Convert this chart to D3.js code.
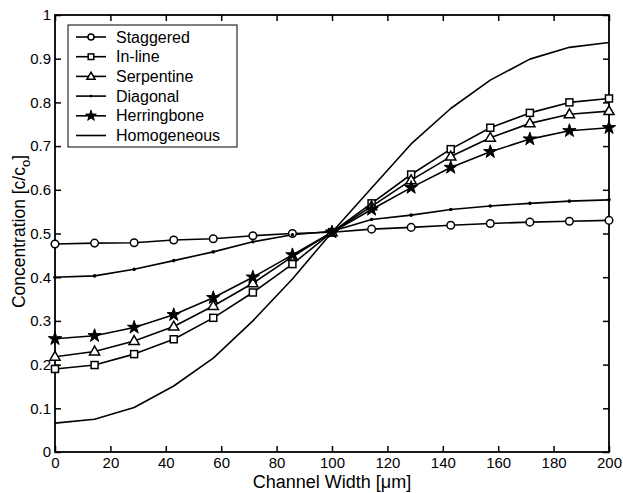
<!DOCTYPE html>
<html>
<head>
<meta charset="utf-8">
<script src="https://cdn.jsdelivr.net/npm/d3@7"></script>
<style>
  body { margin: 0; background: #fff; }
  text { font-family: "Liberation Sans", Arial, sans-serif; fill: #000; }
</style>
</head>
<body>
<script>
// channel positions (um)
var xVals = [0, 14.29, 28.57, 42.86, 57.14, 71.43, 85.71, 100, 114.29, 128.57, 142.86, 157.14, 171.43, 185.71, 200];

// concentration c/co per mixer
var staggered   = [0.476, 0.478, 0.479, 0.485, 0.488, 0.495, 0.500, 0.503, 0.510, 0.514, 0.519, 0.523, 0.526, 0.528, 0.530];
var inline      = [0.190, 0.199, 0.224, 0.258, 0.307, 0.365, 0.430, 0.503, 0.569, 0.635, 0.693, 0.742, 0.776, 0.800, 0.809];
var serpentine  = [0.218, 0.230, 0.254, 0.287, 0.334, 0.386, 0.447, 0.503, 0.562, 0.622, 0.676, 0.719, 0.752, 0.773, 0.780];
var diagonal    = [0.400, 0.403, 0.418, 0.438, 0.458, 0.481, 0.497, 0.505, 0.532, 0.542, 0.555, 0.563, 0.569, 0.574, 0.577];
var herringbone = [0.259, 0.266, 0.285, 0.314, 0.353, 0.400, 0.451, 0.503, 0.555, 0.605, 0.651, 0.687, 0.716, 0.735, 0.742];
var homogeneous = [0.066, 0.075, 0.102, 0.151, 0.215, 0.300, 0.396, 0.503, 0.604, 0.705, 0.786, 0.851, 0.899, 0.926, 0.937];

var seriesNames = ["Staggered", "In-line", "Serpentine", "Diagonal", "Herringbone", "Homogeneous"];
var seriesMarks = ["circle", "square", "triangle", "dot", "star", "none"];
var seriesData  = [staggered, inline, serpentine, diagonal, herringbone, homogeneous];

var xTicks = [0, 20, 40, 60, 80, 100, 120, 140, 160, 180, 200];
var yTicks = [0, 0.1, 0.2, 0.3, 0.4, 0.5, 0.6, 0.7, 0.8, 0.9, 1];

var width = 623, height = 493;
var pLeft = 55, pRight = 609, pTop = 15, pBottom = 452;

var svg = d3.select("body").append("svg").attr("width", width).attr("height", height);

var xScale = d3.scaleLinear().domain([0, 200]).range([pLeft, pRight]);
var yScale = d3.scaleLinear().domain([0, 1]).range([pBottom, pTop]);

// frame
svg.append("rect").attr("x", pLeft).attr("y", pTop)
  .attr("width", pRight - pLeft).attr("height", pBottom - pTop)
  .attr("fill", "none").attr("stroke", "#000").attr("stroke-width", 1.8);

// axes with inward ticks
var fmtY = function(d) { return d === 0 ? "0" : d === 1 ? "1" : d3.format(".1f")(d); };
var xAx = svg.append("g").attr("transform", "translate(0," + pBottom + ")")
  .call(d3.axisBottom(xScale).tickValues(xTicks).tickSizeInner(-6).tickSizeOuter(0).tickPadding(5));
var xAxTop = svg.append("g").attr("transform", "translate(0," + pTop + ")")
  .call(d3.axisTop(xScale).tickValues(xTicks).tickSizeInner(-6).tickSizeOuter(0).tickFormat(""));
var yAx = svg.append("g").attr("transform", "translate(" + pLeft + ",0)")
  .call(d3.axisLeft(yScale).tickValues(yTicks).tickSizeInner(-6).tickSizeOuter(0).tickPadding(4).tickFormat(fmtY));
var yAxR = svg.append("g").attr("transform", "translate(" + pRight + ",0)")
  .call(d3.axisRight(yScale).tickValues(yTicks).tickSizeInner(-6).tickSizeOuter(0).tickFormat(""));

[xAx, xAxTop, yAx, yAxR].forEach(function(g) {
  g.select(".domain").remove();
  g.selectAll(".tick line").attr("stroke", "#000").attr("stroke-width", 1.5);
  g.selectAll("text").style("font-size", "15px").attr("fill", "#000");
});

// axis titles
svg.append("text").attr("x", (pLeft + pRight) / 2).attr("y", 488)
  .attr("text-anchor", "middle").style("font-size", "18px").text("Channel Width [\u03bcm]");

var yt = svg.append("text").attr("transform", "translate(25," + ((pTop + pBottom) / 2 - 2) + ") rotate(-90)")
  .attr("text-anchor", "middle").style("font-size", "17.5px");
yt.append("tspan").text("Concentration [c/c");
yt.append("tspan").attr("dy", 5).style("font-size", "13px").text("o");
yt.append("tspan").attr("dy", -5).text("]");

// marker drawing
function drawMarker(g, type, x, y, k) {
  k = k || 1;
  if (type === "circle") {
    g.append("circle").attr("cx", x).attr("cy", y).attr("r", 3.8 * k)
      .attr("fill", "#fff").attr("stroke", "#000").attr("stroke-width", 1.5);
  } else if (type === "square") {
    var s = 7 * k;
    g.append("rect").attr("x", x - s / 2).attr("y", y - s / 2).attr("width", s).attr("height", s)
      .attr("fill", "#fff").attr("stroke", "#000").attr("stroke-width", 1.5);
  } else if (type === "triangle") {
    g.append("path").attr("d", d3.symbol().type(d3.symbolTriangle).size(45 * k * k)())
      .attr("transform", "translate(" + x + "," + (y + 0.5) + ")")
      .attr("fill", "#fff").attr("stroke", "#000").attr("stroke-width", 1.5);
  } else if (type === "star") {
    g.append("path").attr("d", d3.symbol().type(d3.symbolStar).size(55 * k * k)())
      .attr("transform", "translate(" + x + "," + y + ")")
      .attr("fill", "#000").attr("stroke", "#000").attr("stroke-width", 1);
  } else if (type === "dot") {
    g.append("circle").attr("cx", x).attr("cy", y).attr("r", 1.8 * k).attr("fill", "#000");
  }
}

var line = d3.line().x(function(d) { return xScale(d[0]); }).y(function(d) { return yScale(d[1]); });

var plot = svg.append("g");
seriesData.forEach(function(vals, i) {
  var pts = xVals.map(function(x, j) { return [x, vals[j]]; });
  plot.append("path").attr("d", line(pts)).attr("fill", "none")
    .attr("stroke", "#000").attr("stroke-width", 1.6).attr("stroke-linejoin", "round");
});
seriesData.forEach(function(vals, i) {
  var g = plot.append("g");
  xVals.forEach(function(x, j) { drawMarker(g, seriesMarks[i], xScale(x), yScale(vals[j])); });
});

// legend
var lg = svg.append("g");
lg.append("rect").attr("x", 68).attr("y", 25).attr("width", 169).attr("height", 122)
  .attr("fill", "#fff").attr("stroke", "#000").attr("stroke-width", 1);
seriesNames.forEach(function(name, i) {
  var ly = 37 + i * 19.7;
  lg.append("line").attr("x1", 76).attr("x2", 106).attr("y1", ly).attr("y2", ly)
    .attr("stroke", "#000").attr("stroke-width", 1.6);
  drawMarker(lg, seriesMarks[i], 91, ly, 0.8);
  lg.append("text").attr("x", 116).attr("y", ly + 5.5).style("font-size", "16px").text(name);
});
</script>
</body>
</html>
